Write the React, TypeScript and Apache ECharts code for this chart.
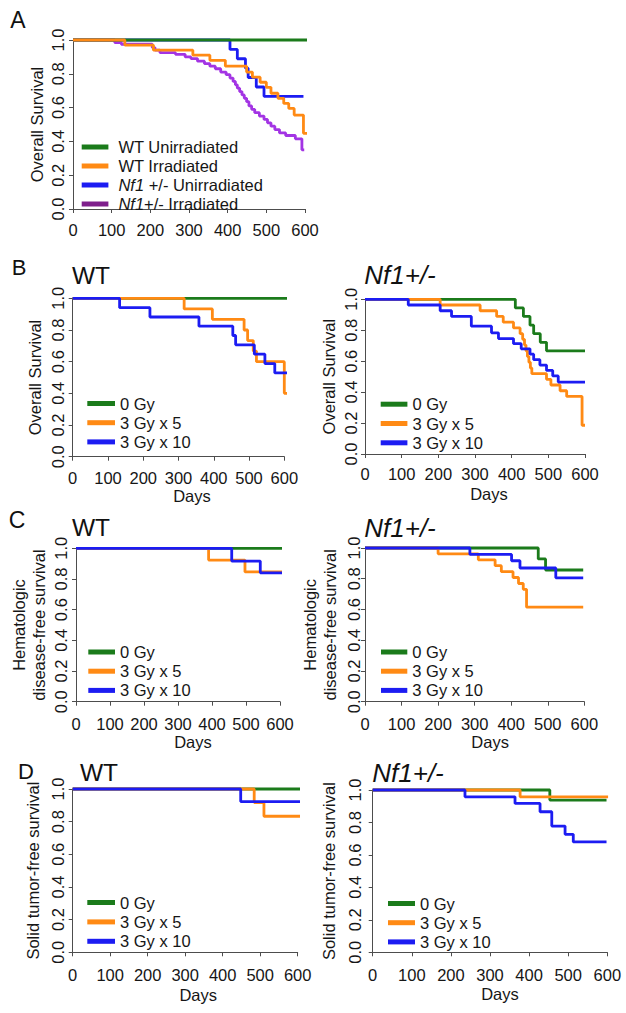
import React, { useEffect, useRef } from "react";
import * as echarts from "echarts";

const FONT = "'Liberation Sans', Arial, Helvetica, sans-serif";
const INK = "#161616";
const AXIS = "#4d4d4d";
const FS = 16.5;

const GREEN = "#1b7b1b";
const ORANGE = "#ff8a14";
const BLUE = "#1c1cf2";
const PURPLE = "#a334e4";
const PURPLE_KEY = "#7f1f8c";

// axis ranges / ticks
const X_MIN = 0;
const X_MAX = 600;
const X_STEP = 100;
const Y_MIN = 0;
const Y_MAX = 1;
const Y_STEP = 0.2;

// group names
const GROUPS_A = ["WT Unirradiated", "WT Irradiated", "Nf1 +/- Unirradiated", "Nf1+/- Irradiated"];
const DOSES = ["0 Gy", "3 Gy x 5", "3 Gy x 10"];

// ---------- Panel A: overall survival (days, survival) ----------
const A_WT_UNIRR = [[0, 1], [628, 1]];
const A_WT_IRR = [[0, 1], [134, 0.97], [208, 0.94], [310, 0.91], [354, 0.88], [394, 0.845], [449, 0.81], [464, 0.78], [484, 0.75], [500, 0.72], [512, 0.685], [530, 0.655], [545, 0.625], [558, 0.595], [572, 0.556], [596, 0.448], [632, 0.448]];
const A_NF1_UNIRR = [[0, 1], [406, 0.944], [425, 0.889], [446, 0.833], [453, 0.778], [474, 0.722], [494, 0.667], [596, 0.667]];
const A_NF1_IRR = [[0, 1], [108, 0.985], [125, 0.975], [205, 0.955], [212, 0.94], [225, 0.925], [265, 0.915], [290, 0.9], [305, 0.89], [322, 0.875], [340, 0.86], [354, 0.845], [368, 0.83], [382, 0.81], [396, 0.795], [406, 0.775], [414, 0.755], [420, 0.735], [425, 0.715], [431, 0.695], [437, 0.675], [443, 0.655], [449, 0.635], [455, 0.61], [462, 0.59], [470, 0.57], [482, 0.55], [494, 0.53], [503, 0.51], [512, 0.49], [522, 0.47], [534, 0.45], [550, 0.435], [575, 0.415], [592, 0.35], [598, 0.35]];

// ---------- Panel B: overall survival ----------
const B_WT_0GY = [[0, 1], [630, 1]];
const B_WT_3X5 = [[0, 1], [316, 0.933], [396, 0.867], [486, 0.8], [496, 0.733], [512, 0.667], [521, 0.6], [600, 0.4], [633, 0.4]];
const B_WT_3X10 = [[0, 1], [133, 0.941], [219, 0.882], [358, 0.824], [454, 0.765], [462, 0.706], [515, 0.647], [545, 0.588], [573, 0.529], [630, 0.529]];
const B_NF1_0GY = [[0, 1], [410, 0.944], [432, 0.889], [450, 0.833], [460, 0.778], [478, 0.722], [495, 0.667], [600, 0.667]];
const B_NF1_3X5 = [[0, 1], [205, 0.963], [314, 0.926], [359, 0.889], [377, 0.852], [405, 0.815], [423, 0.778], [430, 0.741], [435, 0.704], [439, 0.667], [443, 0.63], [447, 0.593], [451, 0.556], [455, 0.519], [495, 0.483], [507, 0.446], [532, 0.409], [550, 0.372], [592, 0.186], [600, 0.186]];
const B_NF1_3X10 = [[0, 1], [118, 0.963], [205, 0.926], [236, 0.889], [290, 0.826], [345, 0.783], [364, 0.746], [405, 0.713], [426, 0.68], [450, 0.645], [460, 0.61], [477, 0.575], [495, 0.54], [512, 0.505], [527, 0.465], [600, 0.465]];

// ---------- Panel C: hematologic disease-free survival ----------
const C_WT_0GY = [[0, 1], [628, 1]];
const C_WT_3X5 = [[0, 1], [390, 0.923], [497, 0.846], [630, 0.846]];
const C_WT_3X10 = [[0, 1], [458, 0.917], [542, 0.84], [627, 0.84]];
const C_NF1_0GY = [[0, 1], [474, 0.929], [494, 0.857], [597, 0.857]];
const C_NF1_3X5 = [[0, 1], [200, 0.962], [310, 0.923], [356, 0.885], [373, 0.846], [405, 0.808], [420, 0.769], [433, 0.731], [442, 0.615], [597, 0.615]];
const C_NF1_3X10 = [[0, 1], [287, 0.958], [401, 0.917], [424, 0.87], [522, 0.806], [597, 0.806]];

// ---------- Panel D: solid tumor-free survival ----------
const D_WT_0GY = [[0, 1], [625, 1]];
const D_WT_3X5 = [[0, 1], [484, 0.917], [510, 0.833], [632, 0.833]];
const D_WT_3X10 = [[0, 1], [448, 0.923], [625, 0.923]];
const D_NF1_0GY = [[0, 1], [453, 0.938], [598, 0.938]];
const D_NF1_3X5 = [[0, 1], [377, 0.958], [602, 0.958]];
const D_NF1_3X10 = [[0, 1], [236, 0.958], [364, 0.917], [428, 0.866], [458, 0.778], [492, 0.727], [513, 0.68], [598, 0.68]];

type Ser = { name: string; color: string; data: number[][] };

const doseSeries = (g: number[][], o: number[][], b: number[][]): Ser[] => [
  { name: DOSES[0], color: GREEN, data: g },
  { name: DOSES[1], color: ORANGE, data: o },
  { name: DOSES[2], color: BLUE, data: b },
];

// layout (pixel geometry of each panel)
const PANELS = [
  {
    x0: 73, x600: 305, y1: 40, y0: 209, xLine: 216, yLine: 72.7,
    yName: "Overall Survival", yNameGap: 26.2, yLabMargin: 6.2, xLabMargin: 5,
    xName: "", xNameGap: 25, xNamePad: 0,
    legend: { left: 81.7, top: 138.5, w: 26.7, gap: 2, pad: 5, names: GROUPS_A },
    series: [
      { name: GROUPS_A[3], color: PURPLE, data: A_NF1_IRR },
      { name: GROUPS_A[2], color: BLUE, data: A_NF1_UNIRR },
      { name: GROUPS_A[0], color: GREEN, data: A_WT_UNIRR },
      { name: GROUPS_A[1], color: ORANGE, data: A_WT_IRR },
    ] as Ser[],
  },
  {
    x0: 72.7, x600: 284.3, y1: 298.3, y0: 456.7, xLine: 463.3, yLine: 72.7,
    yName: "Overall Survival", yNameGap: 27.8, yLabMargin: 6.2, xLabMargin: 6.5,
    xName: "Days", xNameGap: 23, xNamePad: 27,
    legend: { left: 87.3, top: 395, w: 27.7, gap: 2.2, pad: 0, names: DOSES },
    series: doseSeries(B_WT_0GY, B_WT_3X5, B_WT_3X10),
  },
  {
    x0: 365, x600: 585, y1: 299.3, y0: 454, xLine: 460.7, yLine: 365,
    yName: "Overall Survival", yNameGap: 25.8, yLabMargin: 5.1, xLabMargin: 5.1,
    xName: "Days", xNameGap: 25, xNamePad: 28,
    legend: { left: 380.7, top: 395.7, w: 26.7, gap: 2.3, pad: 0, names: DOSES },
    series: doseSeries(B_NF1_0GY, B_NF1_3X5, B_NF1_3X10),
  },
  {
    x0: 76, x600: 280, y1: 548.3, y0: 701.7, xLine: 708.3, yLine: 76,
    yName: "Hematologic\ndisease-free survival", yNameGap: 27.5, yLabMargin: 6.1, xLabMargin: 6.8,
    xName: "Days", xNameGap: 25.5, xNamePad: 30,
    legend: { left: 88.3, top: 643.5, w: 26.7, gap: 2.2, pad: 0, names: DOSES },
    series: doseSeries(C_WT_0GY, C_WT_3X5, C_WT_3X10),
  },
  {
    x0: 365, x600: 584.3, y1: 548, y0: 701.7, xLine: 708.3, yLine: 365,
    yName: "Hematologic\ndisease-free survival", yNameGap: 25.3, yLabMargin: 3, xLabMargin: 6.8,
    xName: "Days", xNameGap: 25.5, xNamePad: 31,
    legend: { left: 381, top: 643.5, w: 26.3, gap: 2.2, pad: 0, names: DOSES },
    series: doseSeries(C_NF1_0GY, C_NF1_3X5, C_NF1_3X10),
  },
  {
    x0: 72.7, x600: 297.7, y1: 789, y0: 952.3, xLine: 959, yLine: 72.7,
    yName: "Solid tumor-free survival", yNameGap: 29.5, yLabMargin: 6.2, xLabMargin: 7.1,
    xName: "Days", xNameGap: 27.8, xNamePad: 26,
    legend: { left: 87.3, top: 894, w: 27.7, gap: 2.4, pad: 0, names: DOSES },
    series: doseSeries(D_WT_0GY, D_WT_3X5, D_WT_3X10),
  },
  {
    x0: 372.7, x600: 607.3, y1: 790, y0: 952.3, xLine: 960, yLine: 372.7,
    yName: "Solid tumor-free survival", yNameGap: 34, yLabMargin: 9.5, xLabMargin: 6.1,
    xName: "Days", xNameGap: 25.8, xNamePad: 20,
    legend: { left: 388, top: 895, w: 27, gap: 2.2, pad: 0, names: DOSES },
    series: doseSeries(D_NF1_0GY, D_NF1_3X5, D_NF1_3X10),
  },
];

const LABELS = [
  { text: "A", x: 18, y: 20, size: 23, italic: false },
  { text: "B", x: 19, y: 267.5, size: 22, italic: false },
  { text: "C", x: 17, y: 520, size: 23, italic: false },
  { text: "D", x: 26, y: 771.7, size: 22, italic: false },
  { text: "WT", x: 91, y: 275.5, size: 24.5, italic: false },
  { text: "Nf1+/-", x: 400, y: 275, size: 26, italic: true },
  { text: "WT", x: 91, y: 527.5, size: 24.5, italic: false },
  { text: "Nf1+/-", x: 400, y: 527.5, size: 26, italic: true },
  { text: "WT", x: 99, y: 772.5, size: 24.5, italic: false },
  { text: "Nf1+/-", x: 408, y: 772.5, size: 26, italic: true },
];

function buildOption() {
  const grid = PANELS.map((p) => ({
    left: p.x0,
    top: p.y1,
    width: p.x600 - p.x0,
    height: p.y0 - p.y1,
    containLabel: false,
  }));
  const axisLine = { show: true, lineStyle: { color: AXIS, width: 1 } };
  const axisTick = { show: true, length: 4, lineStyle: { color: AXIS, width: 1 } };
  const xAxis = PANELS.map((p, i) => ({
    gridIndex: i,
    type: "value",
    min: X_MIN,
    max: X_MAX,
    interval: X_STEP,
    offset: p.xLine - p.y0,
    axisLine,
    axisTick,
    splitLine: { show: false },
    axisLabel: { fontSize: FS, fontFamily: FONT, color: INK, margin: p.xLabMargin },
    name: p.xName,
    nameLocation: "middle",
    nameGap: p.xNameGap,
    nameTextStyle: { fontSize: FS, fontFamily: FONT, color: INK, padding: [0, 0, 0, p.xNamePad] },
  }));
  const yAxis = PANELS.map((p, i) => ({
    gridIndex: i,
    type: "value",
    min: Y_MIN,
    max: Y_MAX,
    interval: Y_STEP,
    offset: p.x0 - p.yLine,
    axisLine,
    axisTick,
    splitLine: { show: false },
    axisLabel: {
      rotate: 90,
      fontSize: FS,
      fontFamily: FONT,
      color: INK,
      margin: p.yLabMargin,
      formatter: (v: number) => v.toFixed(1),
    },
    name: p.yName,
    nameLocation: "middle",
    nameRotate: 90,
    nameGap: p.yNameGap,
    nameTextStyle: { fontSize: FS, fontFamily: FONT, color: INK, lineHeight: 20 },
  }));
  const series = PANELS.flatMap((p, i) =>
    p.series.map((s) => ({
      type: "line",
      name: s.name,
      data: s.data,
      xAxisIndex: i,
      yAxisIndex: i,
      step: "end",
      symbol: "none",
      showSymbol: false,
      clip: false,
      silent: true,
      color: s.color,
      itemStyle: { color: s.color },
      lineStyle: { width: 2.8, color: s.color },
    }))
  );
  const legend = PANELS.map((p) => ({
    orient: "vertical",
    left: p.legend.left,
    top: p.legend.top,
    padding: 0,
    itemGap: p.legend.gap,
    itemWidth: p.legend.w,
    itemHeight: 5,
    icon: "rect",
    selectedMode: false,
    data: p.legend.names.map((n) =>
      n === GROUPS_A[3] ? { name: n, itemStyle: { color: PURPLE_KEY } } : { name: n }
    ),
    formatter: (name: string) => name.replace(/^Nf1/, "{i|Nf1}"),
    textStyle: {
      fontSize: FS,
      fontFamily: FONT,
      color: INK,
      lineHeight: 16.3,
      padding: [0, 0, 0, p.legend.pad],
      rich: {
        i: { fontSize: FS, fontFamily: FONT, color: INK, fontStyle: "italic", lineHeight: 16.3 },
      },
    },
  }));
  const graphic = LABELS.map((l) => ({
    type: "text",
    x: l.x,
    y: l.y,
    silent: true,
    style: {
      text: l.text,
      fontSize: l.size,
      fontFamily: FONT,
      fontStyle: l.italic ? "italic" : "normal",
      fill: "#111",
      align: "center",
      verticalAlign: "middle",
    },
  }));
  return {
    animation: false,
    backgroundColor: "#ffffff",
    grid,
    xAxis,
    yAxis,
    series,
    legend,
    graphic,
  };
}

export default function App() {
  const ref = useRef<HTMLDivElement>(null);
  useEffect(() => {
    if (!ref.current) return;
    const chart = echarts.init(ref.current, undefined, { renderer: "svg" });
    chart.setOption(buildOption() as any);
    return () => chart.dispose();
  }, []);
  return (
    <div
      ref={ref}
      style={{ position: "absolute", left: 0, top: 0, width: 626, height: 1013, background: "#fff" }}
    />
  );
}
